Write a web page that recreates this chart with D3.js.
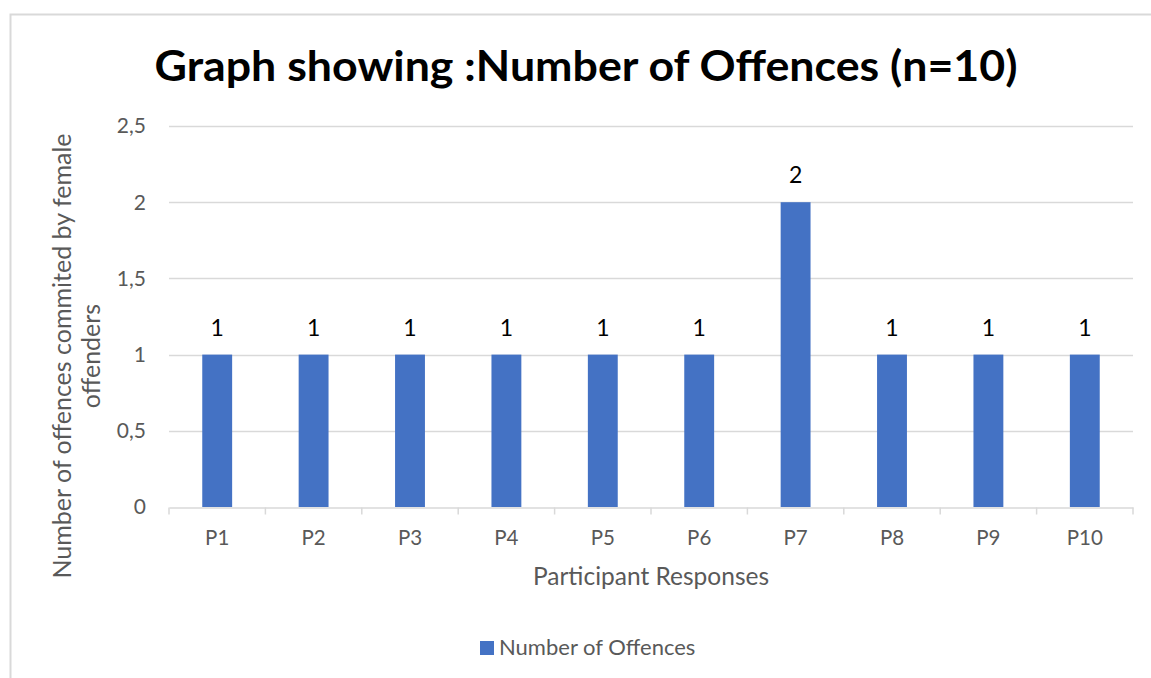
<!DOCTYPE html>
<html>
<head>
<meta charset="utf-8">
<script src="https://cdn.jsdelivr.net/npm/d3@7"></script>
<style>
  html, body { margin: 0; padding: 0; background: #fff; }
  svg { display: block; }
  text { font-family: Lato, "Open Sans", sans-serif; }
</style>
</head>
<body>
<svg id="chart" width="1151" height="678"></svg>
<script>
// Offences per participant
const categories = ["P1", "P2", "P3", "P4", "P5", "P6", "P7", "P8", "P9", "P10"];
const offences = [1, 1, 1, 1, 1, 1, 2, 1, 1, 1];
const yTicks = [0, 0.5, 1, 1.5, 2, 2.5];
const seriesName = "Number of Offences";
const titleText = "Graph showing :Number of Offences (n=10)";
const xTitle = "Participant Responses";
const yTitleLines = ["Number of offences commited by female", "offenders"];

const svg = d3.select("#chart");
const W = 1151, H = 678;
const plot = { left: 169, right: 1133, top: 126, bottom: 507 };
const grid = "#d9d9d9";
const textGrey = "#595959";
const barColor = "#4472c4";

// Chart frame
svg.append("rect")
  .attr("x", 10.5).attr("y", 14.5)
  .attr("width", W + 20).attr("height", H + 20)
  .attr("fill", "#fff").attr("stroke", grid).attr("stroke-width", 2);

const x = d3.scaleBand().domain(categories).range([plot.left, plot.right]).padding(0);
const y = d3.scaleLinear().domain([0, 2.5]).range([plot.bottom, plot.top]);
const barW = x.bandwidth() * 0.31;

// Gridlines
svg.append("g").selectAll("line").data(yTicks.filter(d => d > 0)).join("line")
  .attr("x1", plot.left).attr("x2", plot.right)
  .attr("y1", d => Math.round(y(d)) + 0.5).attr("y2", d => Math.round(y(d)) + 0.5)
  .attr("stroke", grid).attr("stroke-width", 1.5);

// Y tick labels
svg.append("g").selectAll("text").data(yTicks).join("text")
  .attr("x", 146).attr("y", d => y(d))
  .attr("dy", "0.35em")
  .attr("text-anchor", "end")
  .attr("font-size", 21).attr("fill", textGrey)
  .text(d => d3.format(".1~f")(d).replace(".", ","));

// Bars
svg.append("g").selectAll("rect").data(categories).join("rect")
  .attr("x", (d) => x(d) + (x.bandwidth() - barW) / 2)
  .attr("width", barW)
  .attr("y", (d, i) => y(offences[i]))
  .attr("height", (d, i) => y(0) - y(offences[i]))
  .attr("fill", barColor);

// Value labels
svg.append("g").selectAll("text").data(categories).join("text")
  .attr("x", d => x(d) + x.bandwidth() / 2)
  .attr("y", (d, i) => y(offences[i]) - 19)
  .attr("text-anchor", "middle")
  .attr("font-size", 23).attr("fill", "#000")
  .text((d, i) => offences[i]);

// Category axis
const xAxis = svg.append("g").attr("transform", `translate(0,${plot.bottom + 0.5})`)
  .call(d3.axisBottom(x).tickSize(0).tickPadding(0).tickFormat(""));
xAxis.select(".domain").attr("stroke", grid).attr("stroke-width", 1.5);
xAxis.selectAll(".tick").remove();
const bounds = categories.map(c => x(c)).concat([plot.right]);
xAxis.selectAll("line.sep").data(bounds).join("line").attr("class", "sep")
  .attr("x1", d => d).attr("x2", d => d)
  .attr("y1", 0).attr("y2", 7)
  .attr("stroke", grid).attr("stroke-width", 1.5);

svg.append("g").selectAll("text").data(categories).join("text")
  .attr("x", d => x(d) + x.bandwidth() / 2)
  .attr("y", 545)
  .attr("text-anchor", "middle")
  .attr("font-size", 20.5).attr("fill", textGrey)
  .text(d => d);

// Title
svg.append("text")
  .attr("x", 586).attr("y", 81)
  .attr("text-anchor", "middle")
  .attr("font-size", 42).attr("font-weight", 700).attr("fill", "#000")
  .attr("textLength", 863).attr("lengthAdjust", "spacingAndGlyphs")
  .text(titleText);

// Axis titles
svg.append("text")
  .attr("x", 651).attr("y", 585)
  .attr("text-anchor", "middle")
  .attr("font-size", 24.5).attr("fill", textGrey)
  .text(xTitle);

const yMid = 356;
svg.append("g").selectAll("text").data(yTitleLines).join("text")
  .attr("transform", (d, i) => `translate(${71 + i * 29},${yMid}) rotate(-90)`)
  .attr("text-anchor", "middle")
  .attr("font-size", 25).attr("fill", textGrey)
  .text(d => d);

// Legend
const legend = svg.append("g");
legend.append("rect")
  .attr("x", 480).attr("y", 641).attr("width", 14).attr("height", 14)
  .attr("fill", barColor);
legend.append("text")
  .attr("x", 499).attr("y", 655)
  .attr("font-size", 22).attr("fill", textGrey)
  .text(seriesName);
</script>
</body>
</html>
